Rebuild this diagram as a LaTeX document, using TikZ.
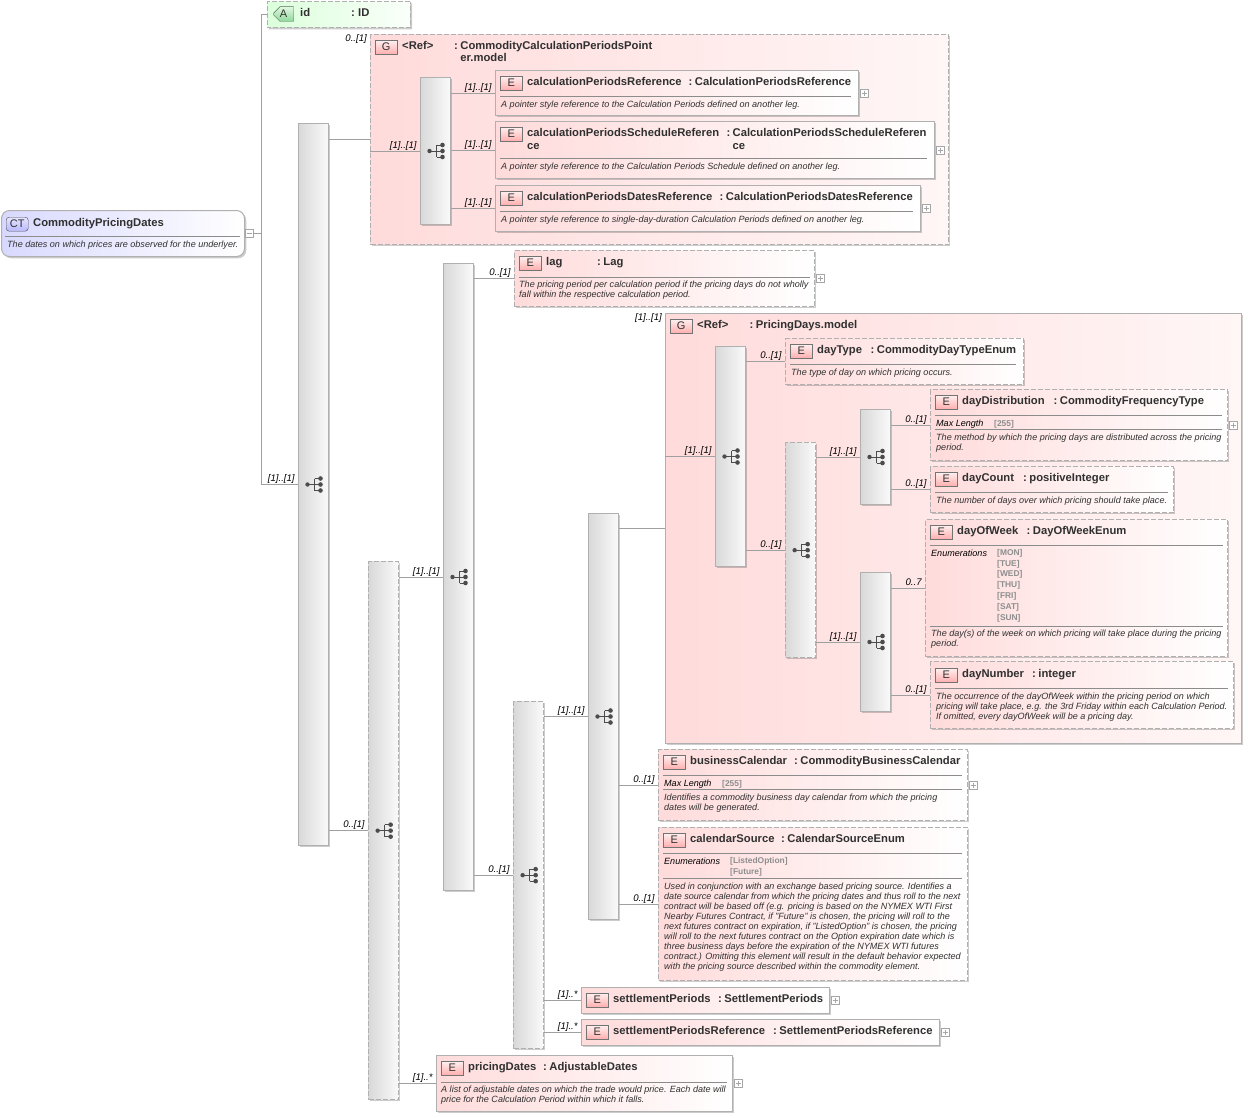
\documentclass[tikz,border=0pt]{standalone}
\usepackage{fontspec}
\setmainfont{Liberation Sans}
\usetikzlibrary{shadows,shapes.misc}

\definecolor{edgegrey}{HTML}{B0B0B0}
\definecolor{rulegrey}{HTML}{8C8C8C}
\definecolor{linegrey}{HTML}{A0A0A0}
\definecolor{inkgrey}{HTML}{303030}
\definecolor{pinkleft}{HTML}{FFDBDB}
\definecolor{pinkright}{HTML}{FFF6F6}
\definecolor{valgrey}{HTML}{8E8E8E}
\definecolor{attrtop}{HTML}{E2F8E2}
\definecolor{attrbot}{HTML}{8FD89A}
\definecolor{attredge}{HTML}{4F6F55}

\tikzset{
  box/.style={anchor=north west,inner sep=0pt,draw=edgegrey,line width=1pt,
    general shadow={fill=black,opacity=.2,shadow xshift=1.8pt,shadow yshift=-1.8pt}},
  elem/.style={box,left color=pinkleft,right color=white},
  group/.style={box,left color=pinkleft,right color=pinkright},
  opt/.style={dash pattern=on 5pt off 2pt,line width=1.3pt},
  bar/.style={box,minimum width=30pt,left color=black!15,right color=black!2},
  badge/.style={anchor=north west,inner sep=0pt,minimum width=22pt,minimum height=14pt,
    draw=black!55,top color=red!6,bottom color=red!32,text=inkgrey,
    font=\fontsize{11}{13}\selectfont},
  ttl/.style={anchor=north west,inner sep=0pt,align=left,text=inkgrey,execute at begin node=\strut,
    font=\fontsize{11.25}{13}\selectfont\bfseries},
  dsc/.style={anchor=north west,inner sep=0pt,align=left,text=inkgrey,execute at begin node=\strut,
    font=\fontsize{9.05}{10}\selectfont\itshape},
  facet/.style={dsc,text=black},
  vals/.style={anchor=north west,inner sep=0pt,align=left,text=valgrey,execute at begin node=\strut,
    font=\fontsize{8.4}{10.85}\selectfont\bfseries},
  mult/.style={anchor=base east,inner sep=0pt,xshift=-3pt,yshift=3pt,text=black,
    font=\fontsize{9.6}{10}\selectfont\itshape},
  conn/.style={draw=linegrey,line width=.8pt},
  sep/.style={draw=rulegrey,line width=.7pt},
  fold/.style={draw=black!35,fill=white,line width=.7pt,minimum size=8pt,inner sep=0pt},
  plus/.style={fold,path picture={
    \draw[black!35,line width=.6pt] ([xshift=1.5pt]path picture bounding box.west) -- ([xshift=-1.5pt]path picture bounding box.east);
    \draw[black!35,line width=.6pt] ([yshift=-1.5pt]path picture bounding box.north) -- ([yshift=1.5pt]path picture bounding box.south);}},
  minus/.style={fold,path picture={
    \draw[black!35,line width=.6pt] ([xshift=1.5pt]path picture bounding box.west) -- ([xshift=-1.5pt]path picture bounding box.east);}},
  seq/.pic={
    \fill[black!70] (-6,0) circle (2.2);
    \fill[black!70] (7,-6) circle (2.3) (7,0) circle (2.3) (7,6) circle (2.3);
    \draw[black!70,line width=1pt] (-6,0) -- (7,0) (1,-6) -- (1,6) (1,-6) -- (7,-6) (1,6) -- (7,6);
  }
}

% sequence bar with its icon: name, x, y, height, extra style
\newcommand{\seqbar}[5]{
  \node[bar,minimum height=#4pt,#5] (#1) at (#2,#3) {};
  \pic at (#1.center) {seq};
}
% header of a box: name, badge x, badge y, letter, title, colon x, type
\newcommand{\head}[7]{
  \node[badge] (#1b) at (#2,#3) {#4};
  \node[ttl] (#1n) at (#2+27,#3) {#5};
  \node[ttl] (#1c) at (#6,#3) {:};
  \node[ttl] (#1t) at (#6+6.2,#3) {#7};
}
% connector from a parent to a child, with its multiplicity
\newcommand{\conn}[3]{
  \draw[conn] (#1.east |- #2.west) -- (#2.west) node[mult] (#2m) {#3};
}

\begin{document}
\begin{tikzpicture}[x=1pt,y=-1pt]
  \useasboundingbox (0,0) rectangle (1248,1117);

  % Root type
  \node[box,rounded corners=8pt,left color=blue!15,right color=white,minimum width=243pt,minimum height=46pt] (root) at (1,210) {};
  \node[badge,rounded corners=3pt,top color=blue!10,bottom color=blue!28,draw=black!70] (rootb) at (6,217) {CT};
  \node[ttl] (rootn) at (33,217) {CommodityPricingDates};
  \draw[sep] (5,236) -- (240,236);
  \node[dsc] (rootd) at (7,240) {The dates on which prices are observed for the underlyer.};
  \node[minus] (fold) at (249,233.5) {};

  % Attribute
  \node[box,opt,chamfered rectangle,chamfered rectangle corners={north west,south west},
    chamfered rectangle xsep=9pt,chamfered rectangle ysep=13pt,minimum width=143pt,minimum height=26pt,
    anchor=north east,left color=green!14,right color=green!2] (attr) at (411,1) {};
  \node[badge,chamfered rectangle,chamfered rectangle corners={north west,south west},
    chamfered rectangle xsep=3pt,chamfered rectangle ysep=4pt,minimum width=20pt,minimum height=13pt,
    anchor=center,top color=attrtop,bottom color=attrbot,draw=attredge] (attrb) at (283.5,14) {A};
  \node[ttl] (attrn) at (300,7) {id};
  \node[ttl] (attrc) at (351,7) {:};
  \node[ttl] (attrt) at (358,7) {ID};

  % Bars
  \seqbar{bar1}{298}{123}{722}{}
  \seqbar{bar3}{368}{561}{538}{opt}
  \seqbar{bar4}{443}{263}{627}{}
  \seqbar{bar5}{513}{701}{347}{opt}
  \seqbar{bar6}{588}{513}{406}{}

  % Group: calculation periods pointer
  \node[group,opt,minimum width=578pt,minimum height=210pt] (gcalc) at (370,34) {};
  \coordinate (gcalcl) at (gcalc.west);
  \head{gcalc}{375}{40}{G}{<Ref>}{454}{CommodityCalculationPeriodsPoint}
  \node[ttl] (gcalcu) at (460.2,52.5) {er.model};
  \node[mult] (gcalcm) at (370,44) {0..[1]};
  \seqbar{bar2}{420}{77}{147}{}

  % Calculation period elements
  \node[elem,minimum width=363pt,minimum height=45pt] (cpref) at (495,70) {};
  \head{cpref}{500}{76}{E}{calculationPeriodsReference}{688.5}{CalculationPeriodsReference}
  \draw[sep] (500,96) -- (851,96);
  \node[dsc] (cprefd) at (501,100) {A pointer style reference to the Calculation Periods defined on another leg.};
  \node[plus] (cprefp) at ([xshift=5pt]cpref.east) {};

  \node[elem,minimum width=439pt,minimum height=57pt] (cpsched) at (495,121) {};
  \head{cpsched}{500}{127}{E}{calculationPeriodsScheduleReferen}{726.3}{CalculationPeriodsScheduleReferen}
  \node[ttl] (cpschedu) at (527,140) {ce};
  \node[ttl] (cpschedv) at (732.5,140) {ce};
  \draw[sep] (500,158) -- (927,158);
  \node[dsc] (cpschedd) at (501,162) {A pointer style reference to the Calculation Periods Schedule defined on another leg.};
  \node[plus] (cpschedp) at ([xshift=5pt]cpsched.east) {};

  \node[elem,minimum width=425pt,minimum height=46pt] (cpdates) at (495,185) {};
  \head{cpdates}{500}{191}{E}{calculationPeriodsDatesReference}{719.5}{CalculationPeriodsDatesReference}
  \draw[sep] (500,211) -- (913,211);
  \node[dsc] (cpdatesd) at (501,215) {A pointer style reference to single-day-duration Calculation Periods defined on another leg.};
  \node[plus] (cpdatesp) at ([xshift=5pt]cpdates.east) {};

  % Lag
  \node[elem,opt,minimum width=300pt,minimum height=56pt] (lag) at (514,250) {};
  \head{lag}{519}{256}{E}{lag}{597}{Lag}
  \draw[sep] (519,277) -- (810,277);
  \node[dsc] (lagd) at (519,281) {The pricing period per calculation period if the pricing days do not wholly\\fall within the respective calculation period.};
  \node[plus] (lagp) at ([xshift=5pt]lag.east) {};

  % Group: pricing days
  \node[group,minimum width=576pt,minimum height=430pt] (gdays) at (665,313) {};
  \coordinate (gdaysl) at (gdays.west);
  \head{gdays}{670}{319}{G}{<Ref>}{749.5}{PricingDays.model}
  \node[mult] (gdaysm) at (665,323.5) {[1]..[1]};
  \seqbar{bar7}{715}{346}{220}{}
  \seqbar{bar8}{785}{442}{215}{opt}
  \seqbar{bar9}{860}{409}{95}{}
  \seqbar{bar10}{860}{572}{139}{}

  \node[elem,opt,minimum width=238pt,minimum height=46pt] (daytype) at (785,338) {};
  \head{daytype}{790}{344}{E}{dayType}{870.5}{CommodityDayTypeEnum}
  \draw[sep] (790,364) -- (1016,364);
  \node[dsc] (daytyped) at (791,368) {The type of day on which pricing occurs.};

  \node[elem,opt,minimum width=297pt,minimum height=71pt] (daydist) at (930,389) {};
  \head{daydist}{935}{395}{E}{dayDistribution}{1053.5}{CommodityFrequencyType}
  \draw[sep] (935,415) -- (1222,415);
  \node[facet] (daydistf) at (936,419) {Max Length};
  \node[vals] (daydistv) at (994,419) {[255]};
  \draw[sep] (935,429) -- (1222,429);
  \node[dsc] (daydistd) at (936,434) {The method by which the pricing days are distributed across the pricing\\period.};
  \node[plus] (daydistp) at ([xshift=5pt]daydist.east) {};

  \node[elem,opt,minimum width=243pt,minimum height=46pt] (daycount) at (930,466) {};
  \head{daycount}{935}{472}{E}{dayCount}{1023}{positiveInteger}
  \draw[sep] (935,492) -- (1168,492);
  \node[dsc] (daycountd) at (936,496) {The number of days over which pricing should take place.};

  \node[elem,opt,minimum width=302pt,minimum height=137pt] (dayweek) at (925,519) {};
  \head{dayweek}{930}{525}{E}{dayOfWeek}{1026.5}{DayOfWeekEnum}
  \draw[sep] (930,545) -- (1223,545);
  \node[facet] (dayweekf) at (931,549) {Enumerations};
  \node[vals] (dayweekv) at (997,549) {[MON]\\{}[TUE]\\{}[WED]\\{}[THU]\\{}[FRI]\\{}[SAT]\\{}[SUN]};
  \draw[sep] (930,626) -- (1223,626);
  \node[dsc] (dayweekd) at (931,630) {The day(s) of the week on which pricing will take place during the pricing\\period.};

  \node[elem,opt,minimum width=303pt,minimum height=67pt] (daynum) at (930,661) {};
  \head{daynum}{935}{668}{E}{dayNumber}{1032}{integer}
  \draw[sep] (935,688) -- (1228,688);
  \node[dsc] (daynumd) at (936,693) {The occurrence of the dayOfWeek within the pricing period on which\\pricing will take place, e.g. the 3rd Friday within each Calculation Period.\\If omitted, every dayOfWeek will be a pricing day.};

  % Business calendar and source
  \node[elem,opt,minimum width=309pt,minimum height=71pt] (buscal) at (658,749) {};
  \head{buscal}{663}{755}{E}{businessCalendar}{794}{CommodityBusinessCalendar}
  \draw[sep] (663,775) -- (962,775);
  \node[facet] (buscalf) at (664,779) {Max Length};
  \node[vals] (buscalv) at (722,779) {[255]};
  \draw[sep] (663,789) -- (962,789);
  \node[dsc] (buscald) at (664,794) {Identifies a commodity business day calendar from which the pricing\\dates will be generated.};
  \node[plus] (buscalp) at ([xshift=5pt]buscal.east) {};

  \node[elem,opt,minimum width=309pt,minimum height=153pt] (calsrc) at (658,827) {};
  \head{calsrc}{663}{833}{E}{calendarSource}{781}{CalendarSourceEnum}
  \draw[sep] (663,853) -- (962,853);
  \node[facet] (calsrcf) at (664,857) {Enumerations};
  \node[vals] (calsrcv) at (730,857) {[ListedOption]\\{}[Future]};
  \draw[sep] (663,878) -- (962,878);
  \node[dsc] (calsrcd) at (664,883) {Used in conjunction with an exchange based pricing source. Identifies a\\date source calendar from which the pricing dates and thus roll to the next\\contract will be based off (e.g. pricing is based on the NYMEX WTI First\\Nearby Futures Contract, if "Future" is chosen, the pricing will roll to the\\next futures contract on expiration, if "ListedOption" is chosen, the pricing\\will roll to the next futures contract on the Option expiration date which is\\three business days before the expiration of the NYMEX WTI futures\\contract.) Omitting this element will result in the default behavior expected\\with the pricing source described within the commodity element.};

  % Settlement periods
  \node[elem,minimum width=248pt,minimum height=26pt] (setper) at (581,987) {};
  \head{setper}{586}{993}{E}{settlementPeriods}{718}{SettlementPeriods}
  \node[plus] (setperp) at ([xshift=5pt]setper.east) {};

  \node[elem,minimum width=358pt,minimum height=26pt] (setref) at (581,1019) {};
  \head{setref}{586}{1025}{E}{settlementPeriodsReference}{773}{SettlementPeriodsReference}
  \node[plus] (setrefp) at ([xshift=5pt]setref.east) {};

  % Pricing dates
  \node[elem,minimum width=296pt,minimum height=56pt] (pdates) at (436,1055) {};
  \head{pdates}{441}{1061}{E}{pricingDates}{543}{AdjustableDates}
  \draw[sep] (441,1082) -- (727,1082);
  \node[dsc] (pdatesd) at (441,1086) {A list of adjustable dates on which the trade would price. Each date will\\price for the Calculation Period within which it falls.};
  \node[plus] (pdatesp) at ([xshift=5pt]pdates.east) {};

  % Connectors
  \coordinate (spine) at (261,233.5);
  \draw[conn] (fold.east) -- (spine);
  \draw[conn] (spine |- attr.west) -- (spine |- bar1.west);
  \draw[conn] (spine |- attr.west) -- (attr.west);
  \conn{spine}{bar1}{[1]..[1]}
  \draw[conn] (bar1.east |- gcalc.west) -- (gcalc.west);
  \conn{gcalcl}{bar2}{[1]..[1]}
  \conn{bar2}{cpref}{[1]..[1]}
  \conn{bar2}{cpsched}{[1]..[1]}
  \conn{bar2}{cpdates}{[1]..[1]}
  \conn{bar1}{bar3}{0..[1]}
  \conn{bar3}{bar4}{[1]..[1]}
  \conn{bar3}{pdates}{[1]..*}
  \conn{bar4}{lag}{0..[1]}
  \conn{bar4}{bar5}{0..[1]}
  \conn{bar5}{bar6}{[1]..[1]}
  \conn{bar5}{setper}{[1]..*}
  \conn{bar5}{setref}{[1]..*}
  \draw[conn] (bar6.east |- gdays.west) -- (gdays.west);
  \conn{bar6}{buscal}{0..[1]}
  \conn{bar6}{calsrc}{0..[1]}
  \conn{gdaysl}{bar7}{[1]..[1]}
  \conn{bar7}{daytype}{0..[1]}
  \conn{bar7}{bar8}{0..[1]}
  \conn{bar8}{bar9}{[1]..[1]}
  \conn{bar8}{bar10}{[1]..[1]}
  \conn{bar9}{daydist}{0..[1]}
  \conn{bar9}{daycount}{0..[1]}
  \conn{bar10}{dayweek}{0..7}
  \conn{bar10}{daynum}{0..[1]}
\end{tikzpicture}
\end{document}
